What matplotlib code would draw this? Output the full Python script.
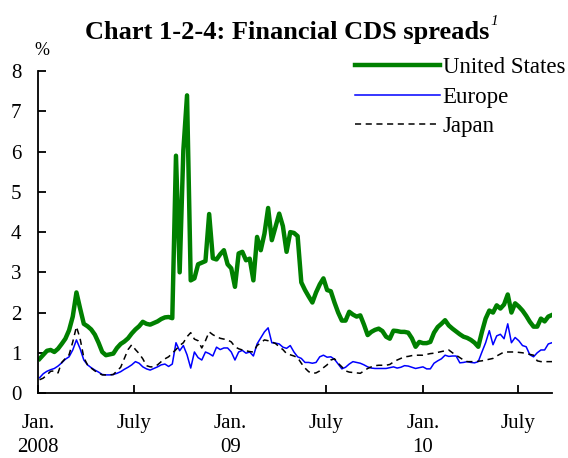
import matplotlib
matplotlib.use("Agg")
import matplotlib.pyplot as plt
import pandas as pd

plt.rcParams['font.family'] = ['Liberation Serif', 'DejaVu Serif']

start_date = "2008-01-04"
n_weeks = 140

united_states = [
    0.85, 0.95, 1.05, 1.07, 1.02, 1.10, 1.22, 1.35, 1.56, 1.90,
    2.50, 2.10, 1.72, 1.66, 1.58, 1.45, 1.25, 1.02, 0.94, 0.96,
    0.98, 1.12, 1.22, 1.28, 1.36, 1.48, 1.58, 1.66, 1.77, 1.72,
    1.70, 1.74, 1.78, 1.84, 1.88, 1.89, 1.86, 5.90, 3.00, 6.03,
    7.40, 2.80, 2.85, 3.20, 3.24, 3.28, 4.45, 3.35, 3.32, 3.45,
    3.55, 3.20, 3.10, 2.64, 3.47, 3.51, 3.30, 3.34, 2.80, 3.88,
    3.55, 3.96, 4.60, 3.80, 4.13, 4.46, 4.15, 3.51, 4.00, 3.98,
    3.90, 2.75, 2.56, 2.40, 2.25, 2.50, 2.70, 2.85, 2.56, 2.53,
    2.25, 2.00, 1.80, 1.80, 2.02, 1.95, 1.90, 1.93, 1.70, 1.44,
    1.52, 1.57, 1.60, 1.54, 1.40, 1.35, 1.55, 1.54, 1.52, 1.52,
    1.50, 1.36, 1.15, 1.27, 1.24, 1.24, 1.27, 1.50, 1.64, 1.72,
    1.81, 1.68, 1.60, 1.53, 1.46, 1.40, 1.37, 1.32, 1.25, 1.15,
    1.52, 1.85, 2.05, 2.00, 2.18, 2.10, 2.20, 2.45, 2.00, 2.23,
    2.15, 2.05, 1.92, 1.77, 1.65, 1.65, 1.85, 1.78, 1.90, 1.94,
]

europe = [
    0.38, 0.48, 0.54, 0.58, 0.61, 0.67, 0.75, 0.84, 0.90, 1.07,
    1.32, 1.10, 0.82, 0.70, 0.63, 0.57, 0.52, 0.46, 0.45, 0.45,
    0.46, 0.49, 0.53, 0.59, 0.64, 0.70, 0.78, 0.74, 0.65, 0.60,
    0.57, 0.61, 0.65, 0.70, 0.72, 0.66, 0.72, 1.25, 1.05, 1.18,
    0.95, 0.62, 1.02, 0.88, 0.82, 1.02, 0.98, 0.92, 1.14, 1.08,
    1.12, 1.12, 1.02, 0.82, 1.02, 1.06, 0.99, 1.02, 0.92, 1.22,
    1.37, 1.52, 1.62, 1.25, 1.24, 1.22, 1.14, 1.11, 1.18, 1.02,
    0.90, 0.86, 0.76, 0.76, 0.74, 0.76, 0.90, 0.94, 0.89, 0.90,
    0.84, 0.72, 0.60, 0.64, 0.72, 0.78, 0.76, 0.74, 0.70, 0.65,
    0.62, 0.61, 0.61, 0.61, 0.61, 0.63, 0.65, 0.62, 0.64, 0.68,
    0.67, 0.64, 0.61, 0.63, 0.65, 0.60, 0.60, 0.74, 0.80, 0.85,
    0.94, 0.91, 0.92, 0.92, 0.75, 0.76, 0.78, 0.76, 0.75, 0.78,
    1.02, 1.25, 1.55, 1.20, 1.42, 1.46, 1.35, 1.72, 1.25, 1.38,
    1.30, 1.18, 1.15, 0.95, 0.90, 1.00, 1.07, 1.07, 1.22, 1.25,
]

japan = [
    0.33, 0.37, 0.45, 0.54, 0.55, 0.50, 0.76, 0.86, 0.95, 1.27,
    1.65, 1.35, 0.88, 0.70, 0.62, 0.55, 0.50, 0.45, 0.45, 0.45,
    0.46, 0.55, 0.64, 0.86, 1.08, 1.20, 1.08, 0.98, 0.85, 0.68,
    0.65, 0.65, 0.70, 0.78, 0.85, 0.90, 0.99, 1.08, 1.18, 1.25,
    1.40, 1.50, 1.34, 1.30, 1.12, 1.30, 1.52, 1.45, 1.40, 1.36,
    1.34, 1.32, 1.27, 1.15, 1.10, 1.07, 1.05, 1.03, 1.02, 1.18,
    1.25, 1.32, 1.30, 1.27, 1.23, 1.15, 1.08, 0.98, 0.95, 0.92,
    0.88, 0.74, 0.62, 0.53, 0.49, 0.50, 0.55, 0.63, 0.70, 0.82,
    0.85, 0.74, 0.65, 0.55, 0.52, 0.51, 0.50, 0.49, 0.55, 0.61,
    0.65, 0.68, 0.69, 0.69, 0.69, 0.71, 0.77, 0.82, 0.86, 0.90,
    0.91, 0.93, 0.94, 0.94, 0.94, 0.96, 0.98, 0.99, 1.01, 1.03,
    1.05, 1.07, 1.00, 0.94, 0.88, 0.82, 0.78, 0.78, 0.78, 0.79,
    0.80, 0.82, 0.84, 0.86, 0.92, 0.97, 1.02, 1.02, 1.02, 1.02,
    1.01, 1.00, 0.98, 0.96, 0.94, 0.80, 0.78, 0.78, 0.78, 0.78,
]

tick_dates = ["2008-01-01", "2008-07-01", "2009-01-01", "2009-07-01", "2010-01-01", "2010-07-01"]
tick_labels = ["Jan.\n2008", "July", "Jan.\n09", "July", "Jan.\n10", "July"]
y_ticks = [0, 1, 2, 3, 4, 5, 6, 7, 8]
series_names = ["United States", "Europe", "Japan"]

dates = pd.date_range(start_date, periods=n_weeks, freq="7D")

fig = plt.figure(figsize=(5.68, 4.58), dpi=100)
ax = fig.add_axes([0.0669, 0.1419, 0.9049, 0.7026])

ax.plot(dates, united_states, color="#008000", lw=3.2, label=series_names[0], solid_joinstyle="round")
ax.plot(dates, europe, color="#0000ff", lw=1.1, label=series_names[1])
ax.plot(dates, japan, color="black", lw=1.1, linestyle=(0, (4, 3)), label=series_names[2])

ax.set_xlim(pd.Timestamp("2008-01-01"), pd.Timestamp("2010-09-03"))
ax.set_ylim(0, 8)
ax.set_yticks(y_ticks)
ax.set_xticks(pd.to_datetime(tick_dates))
ax.set_xticklabels(tick_labels, linespacing=1.4)

for s in ["top", "right"]:
    ax.spines[s].set_visible(False)
for s in ["left", "bottom"]:
    ax.spines[s].set_linewidth(1.3)

ax.tick_params(axis="x", direction="in", length=6, width=1.3, labelsize=15, pad=15)
ax.tick_params(axis="y", direction="in", length=6, width=1.3, labelsize=15, pad=12)

leg = ax.legend(loc="upper left", bbox_to_anchor=(0.625, 1 - 57 / 458), bbox_transform=fig.transFigure,
                frameon=False, fontsize=16.5, handlelength=3.7, handletextpad=0.12,
                labelspacing=0.37, borderaxespad=0.0, borderpad=0.0)

fig.text(0.074, 0.89, "%", fontsize=13, ha="center", va="center")

title = fig.text(0.506, 1 - 39 / 458, "Chart 1-2-4: Financial CDS spreads", fontsize=19,
                 fontweight="bold", ha="center", va="baseline")
fig.canvas.draw()
bb = title.get_window_extent(fig.canvas.get_renderer()).transformed(fig.transFigure.inverted())
fig.text(bb.x1 + 0.002, 1 - 15 / 458, "1", fontsize=11, fontstyle="italic", ha="left", va="top")

fig.savefig("out.png", dpi=100)
